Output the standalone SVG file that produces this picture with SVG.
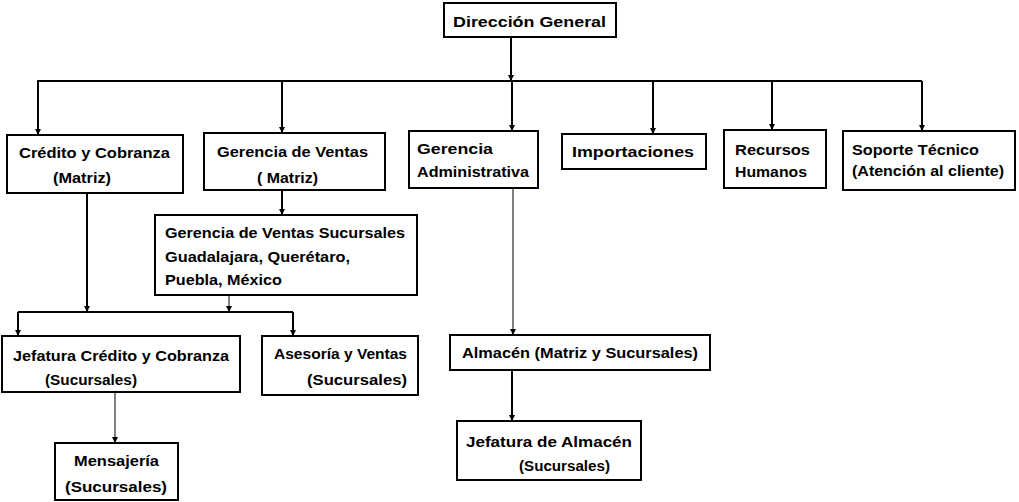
<svg xmlns="http://www.w3.org/2000/svg" width="1019" height="502" viewBox="0 0 1019 502">
  <style>
    .box { fill: #ffffff; stroke: #000000; stroke-width: 2; }
    .lbl { font-family: "Liberation Sans", Arial, sans-serif; font-weight: bold; font-size: 15px; fill: #000000; }
    .sm { font-size: 14px; }
    .wire { fill: none; stroke: #000000; stroke-width: 2; }
    .thin { fill: none; stroke: #000000; stroke-width: 1; }
  </style>
  <defs>
    <marker id="arrow" viewBox="0 0 6 6" refX="6" refY="3" markerWidth="6" markerHeight="6" markerUnits="userSpaceOnUse" orient="auto">
      <path d="M0,0 L6,3 L0,6 z" fill="#000000"/>
    </marker>
  </defs>

  <!-- connectors -->
  <g id="connectors">
    <path class="wire" d="M511,37 V81" marker-end="url(#arrow)"/>
    <path class="wire" d="M37,81 H922"/>
    <path class="wire" d="M38,81 V135" marker-end="url(#arrow)"/>
    <path class="wire" d="M282,81 V133" marker-end="url(#arrow)"/>
    <path class="wire" d="M512,81 V131" marker-end="url(#arrow)"/>
    <path class="wire" d="M653,81 V134" marker-end="url(#arrow)"/>
    <path class="wire" d="M772,81 V130" marker-end="url(#arrow)"/>
    <path class="wire" d="M922,81 V131" marker-end="url(#arrow)"/>
    <path class="wire" d="M282,190 V215" marker-end="url(#arrow)"/>
    <path class="wire" d="M87,193 V312" marker-end="url(#arrow)"/>
    <path class="thin" d="M229,295 V312" marker-end="url(#arrow)"/>
    <path class="wire" d="M18,312 H293"/>
    <path class="wire" d="M18,312 V336" marker-end="url(#arrow)"/>
    <path class="wire" d="M293,312 V336" marker-end="url(#arrow)"/>
    <path class="thin" d="M115,392 V443" marker-end="url(#arrow)"/>
    <path class="thin" d="M513,188 V335" marker-end="url(#arrow)"/>
    <path class="wire" d="M512,370 V421" marker-end="url(#arrow)"/>
  </g>

  <g id="direccion-general">
    <rect class="box" x="444" y="3" width="172" height="34"/>
    <text class="lbl" x="453" y="27" textLength="153" lengthAdjust="spacingAndGlyphs">Dirección General</text>
  </g>

  <g id="credito-cobranza">
    <rect class="box" x="7" y="135" width="176" height="58"/>
    <text class="lbl" x="19" y="158" textLength="151" lengthAdjust="spacingAndGlyphs">Crédito y Cobranza</text>
    <text class="lbl" x="53" y="183" textLength="58" lengthAdjust="spacingAndGlyphs">(Matriz)</text>
  </g>

  <g id="gerencia-ventas">
    <rect class="box" x="204" y="133" width="181" height="57"/>
    <text class="lbl" x="217" y="157" textLength="151" lengthAdjust="spacingAndGlyphs">Gerencia de Ventas</text>
    <text class="lbl" x="257" y="183" textLength="61" lengthAdjust="spacingAndGlyphs">( Matriz)</text>
  </g>

  <g id="gerencia-administrativa">
    <rect class="box" x="409" y="131" width="129" height="57"/>
    <text class="lbl" x="417" y="154" textLength="76" lengthAdjust="spacingAndGlyphs">Gerencia</text>
    <text class="lbl" x="417" y="177" textLength="112" lengthAdjust="spacingAndGlyphs">Administrativa</text>
  </g>

  <g id="importaciones">
    <rect class="box" x="562" y="134" width="144" height="35"/>
    <text class="lbl" x="572" y="157" textLength="122" lengthAdjust="spacingAndGlyphs">Importaciones</text>
  </g>

  <g id="recursos-humanos">
    <rect class="box" x="724" y="130" width="102" height="58"/>
    <text class="lbl" x="735" y="155" textLength="75" lengthAdjust="spacingAndGlyphs">Recursos</text>
    <text class="lbl" x="735" y="177" textLength="72" lengthAdjust="spacingAndGlyphs">Humanos</text>
  </g>

  <g id="soporte-tecnico">
    <rect class="box" x="843" y="131" width="172" height="59"/>
    <text class="lbl" x="852" y="155" textLength="127" lengthAdjust="spacingAndGlyphs">Soporte Técnico</text>
    <text class="lbl" x="852" y="176" textLength="152" lengthAdjust="spacingAndGlyphs">(Atención al cliente)</text>
  </g>

  <g id="gerencia-ventas-sucursales">
    <rect class="box" x="155" y="215" width="262" height="80"/>
    <text class="lbl" x="165" y="238" textLength="240" lengthAdjust="spacingAndGlyphs">Gerencia de Ventas Sucursales</text>
    <text class="lbl" x="165" y="262" textLength="185" lengthAdjust="spacingAndGlyphs">Guadalajara, Querétaro,</text>
    <text class="lbl" x="165" y="285" textLength="117" lengthAdjust="spacingAndGlyphs">Puebla, México</text>
  </g>

  <g id="jefatura-credito">
    <rect class="box" x="2" y="336" width="238" height="56"/>
    <text class="lbl" x="13" y="361" textLength="216" lengthAdjust="spacingAndGlyphs">Jefatura Crédito y Cobranza</text>
    <text class="lbl sm" x="45" y="385" textLength="92" lengthAdjust="spacingAndGlyphs">(Sucursales)</text>
  </g>

  <g id="asesoria-ventas">
    <rect class="box" x="262" y="336" width="156" height="59"/>
    <text class="lbl" x="274" y="359" textLength="133" lengthAdjust="spacingAndGlyphs">Asesoría y Ventas</text>
    <text class="lbl" x="307" y="385" textLength="100" lengthAdjust="spacingAndGlyphs">(Sucursales)</text>
  </g>

  <g id="mensajeria">
    <rect class="box" x="55" y="443" width="123" height="57"/>
    <text class="lbl" x="74" y="466" textLength="85" lengthAdjust="spacingAndGlyphs">Mensajería</text>
    <text class="lbl" x="65" y="492" textLength="102" lengthAdjust="spacingAndGlyphs">(Sucursales)</text>
  </g>

  <g id="almacen">
    <rect class="box" x="450" y="335" width="260" height="35"/>
    <text class="lbl" x="462" y="358" textLength="236" lengthAdjust="spacingAndGlyphs">Almacén  (Matriz y Sucursales)</text>
  </g>

  <g id="jefatura-almacen">
    <rect class="box" x="457" y="421" width="184" height="59"/>
    <text class="lbl" x="466" y="447" textLength="166" lengthAdjust="spacingAndGlyphs">Jefatura de Almacén</text>
    <text class="lbl sm" x="519" y="471" textLength="91" lengthAdjust="spacingAndGlyphs">(Sucursales)</text>
  </g>
</svg>
